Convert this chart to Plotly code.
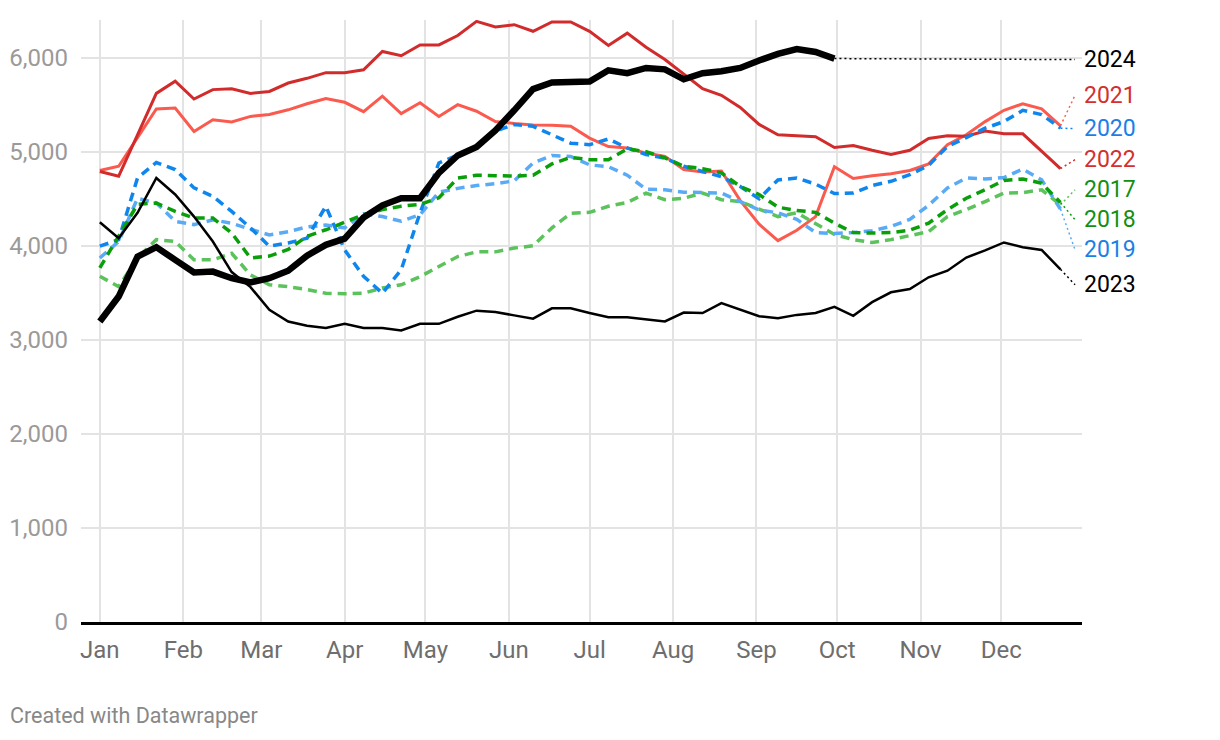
import pandas as pd
import plotly.graph_objects as go

# weekly values, first week starting Jan 1
weeks = pd.date_range("2024-01-01", periods=52, freq="7D")

y2017 = [3675, 3565, 3870, 4065, 4045, 3850, 3850, 3920, 3690, 3585, 3565, 3535, 3495,
         3490, 3495, 3550, 3585, 3670, 3780, 3885, 3935, 3935, 3975, 4000, 4190, 4345,
         4355, 4420, 4460, 4560, 4490, 4505, 4560, 4490, 4470, 4385, 4310, 4350, 4240,
         4120, 4065, 4035, 4065, 4105, 4150, 4310, 4385, 4470, 4560, 4565, 4595, 4435]
y2018 = [3765, 4100, 4440, 4455, 4365, 4295, 4295, 4135, 3870, 3890, 3960, 4100, 4170,
         4250, 4330, 4385, 4420, 4440, 4510, 4720, 4750, 4745, 4740, 4750, 4870, 4940,
         4915, 4915, 5030, 5000, 4935, 4845, 4820, 4775, 4630, 4545, 4410, 4375, 4355,
         4240, 4140, 4135, 4140, 4165, 4240, 4385, 4505, 4595, 4695, 4710, 4665, 4460]
y2019 = [3870, 4045, 4505, 4455, 4260, 4225, 4275, 4240, 4175, 4115, 4150, 4200, 4220,
         4190, 4340, 4310, 4260, 4330, 4570, 4610, 4640, 4660, 4690, 4880, 4960, 4950,
         4860, 4840, 4750, 4600, 4595, 4570, 4565, 4560, 4470, 4380, 4350, 4280, 4140,
         4130, 4140, 4160, 4205, 4280, 4430, 4615, 4720, 4710, 4725, 4815, 4700, 4390]
y2020 = [3995, 4065, 4720, 4885, 4810, 4615, 4525, 4365, 4190, 3995, 4030, 4080, 4420,
         3955, 3675, 3495, 3745, 4350, 4880, 4960, 5050, 5220, 5290, 5270, 5180, 5090,
         5075, 5135, 5040, 4970, 4930, 4845, 4790, 4735, 4630, 4500, 4700, 4720, 4655,
         4555, 4560, 4640, 4685, 4755, 4855, 5055, 5150, 5250, 5320, 5440, 5395, 5250]
y2021 = [4800, 4845, 5150, 5455, 5465, 5215, 5340, 5315, 5375, 5395, 5445, 5510, 5565,
         5525, 5425, 5590, 5405, 5520, 5375, 5500, 5430, 5320, 5300, 5285, 5280, 5270,
         5145, 5055, 5040, 4985, 4950, 4810, 4785, 4795, 4480, 4230, 4055, 4165, 4310,
         4840, 4715, 4745, 4765, 4800, 4870, 5075, 5180, 5320, 5440, 5510, 5455, 5275]
y2022 = [4790, 4740, 5180, 5620, 5750, 5560, 5660, 5670, 5620, 5640, 5730, 5780, 5840,
         5840, 5870, 6065, 6020, 6135, 6135, 6235, 6385, 6325, 6350, 6280, 6380, 6380,
         6280, 6130, 6260, 6110, 5980, 5820, 5670, 5600, 5470, 5290, 5180, 5170, 5160,
         5045, 5065, 5015, 4970, 5015, 5140, 5170, 5165, 5220, 5190, 5190, 5000, 4820]
y2023 = [4250, 4080, 4350, 4720, 4545, 4310, 4045, 3720, 3560, 3320, 3195, 3150, 3125,
         3170, 3125, 3125, 3100, 3170, 3170, 3245, 3310, 3295, 3260, 3225, 3335, 3335,
         3285, 3240, 3240, 3220, 3195, 3290, 3285, 3390, 3320, 3250, 3230, 3265, 3285,
         3350, 3255, 3400, 3505, 3540, 3665, 3735, 3875, 3950, 4035, 3985, 3955, 3750]
y2024 = [3195, 3460, 3885, 3985, 3850, 3715, 3725, 3655, 3610, 3655, 3735, 3895, 4010,
         4075, 4300, 4430, 4505, 4505, 4775, 4960, 5050, 5225, 5440, 5665, 5735, 5735,
         5745, 5865, 5835, 5890, 5875, 5770, 5835, 5855, 5890, 5970, 6040, 6090, 6060,
         5990]

month_ticks = pd.date_range("2024-01-01", periods=12, freq="MS")
month_names = ["Jan", "Feb", "Mar", "Apr", "May", "Jun",
               "Jul", "Aug", "Sep", "Oct", "Nov", "Dec"]

RED, SALMON = "#d12c2b", "#fb5a4e"
BLUE, LBLUE = "#0f86ee", "#5aabf6"
GREEN, LGREEN = "#0a9e0a", "#5cc25c"
LBL_RED, LBL_BLUE, LBL_GREEN = "#d3302f", "#1a80e6", "#138f13"

# name, values, colour, width, dash, label colour, label y
series = [
    ("2021", y2021, SALMON, 3, "solid", LBL_RED, 5600),
    ("2022", y2022, RED, 3, "solid", LBL_RED, 4915),
    ("2017", y2017, LGREEN, 3.5, "9px,6px", LBL_GREEN, 4596),
    ("2019", y2019, LBLUE, 3.5, "9px,6px", LBL_BLUE, 3957),
    ("2020", y2020, BLUE, 3.5, "9px,6px", LBL_BLUE, 5245),
    ("2018", y2018, GREEN, 3.5, "9px,6px", LBL_GREEN, 4277),
    ("2023", y2023, "#000000", 2.5, "solid", "#000000", 3585),
    ("2024", y2024, "#000000", 6.5, "solid", "#000000", 5979),
]

label_x = pd.Timestamp("2024-12-28 10:00")

fig = go.Figure()
for name, vals, col, w, dash, lcol, ly in series:
    x_last = weeks[len(vals) - 1]
    # dotted connector to the label
    fig.add_trace(go.Scatter(
        x=[x_last, label_x], y=[vals[-1], ly], mode="lines",
        line=dict(color=col, width=1.5, dash="2px,3px"),
        showlegend=False, hoverinfo="skip"))
for name, vals, col, w, dash, lcol, ly in series:
    fig.add_trace(go.Scatter(
        x=weeks[:len(vals)], y=vals, mode="lines", name=name,
        line=dict(color=col, width=w, dash=dash), showlegend=False))
    fig.add_annotation(
        x=1.0, xref="paper", y=ly, yref="y", text=name, showarrow=False,
        xanchor="left", yanchor="middle", xshift=0,
        font=dict(family="Roboto", size=23, color=lcol))

fig.add_annotation(
    x=-0.073, xref="paper", y=-0.155, yref="paper", text="Created with Datawrapper",
    showarrow=False, xanchor="left", yanchor="middle",
    font=dict(family="Roboto", size=21.5, color="#888888"))

# page has an 8px body margin, so the figure is 8px smaller than the window
fig.update_layout(
    width=1212, height=732,
    margin=dict(l=73, r=138, t=12, b=118),
    plot_bgcolor="white", paper_bgcolor="white",
    font=dict(family="Roboto"),
    xaxis=dict(
        range=["2023-12-25", "2024-12-31"], automargin=False,
        tickvals=month_ticks, ticktext=month_names,
        showgrid=True, gridcolor="#e3e3e3", gridwidth=1.5,
        showline=True, linecolor="#000000", linewidth=2.5,
        ticks="", ticklabelstandoff=4,
        tickfont=dict(size=24, color="#6e6e6e"),
    ),
    yaxis=dict(
        range=[0, 6400], tickvals=[0, 1000, 2000, 3000, 4000, 5000, 6000],
        automargin=False,
        tickformat=",", showgrid=True, gridcolor="#e3e3e3", gridwidth=1.5,
        zeroline=False, ticks="", ticklabelstandoff=12,
        tickfont=dict(size=24, color="#9a9a9a"),
    ),
)

fig.write_html("out.html")
